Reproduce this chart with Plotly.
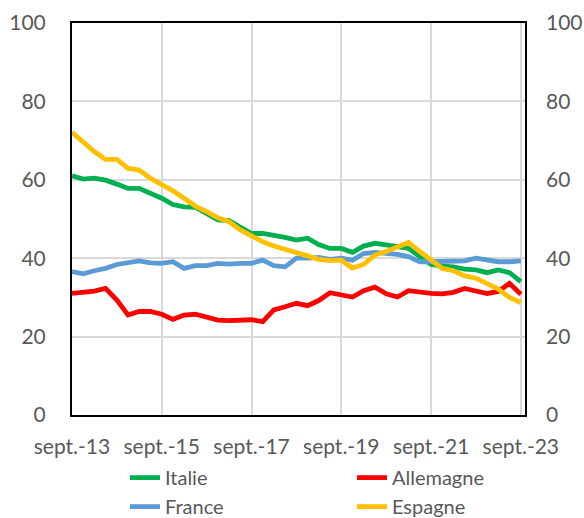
import pandas as pd
import plotly.graph_objects as go

dates = pd.date_range(start="2013-09-01", periods=41, freq="3MS")

italie = [61.0, 60.2, 60.4, 59.9, 58.9, 57.8, 57.8, 56.7, 55.3, 53.7, 53.1, 53.0, 51.5,
          49.8, 49.6, 47.9, 46.3, 46.3, 45.9, 45.3, 44.6, 45.1, 43.5, 42.5, 42.5, 41.5,
          43.1, 43.8, 43.4, 42.9, 42.5, 40.4, 38.4, 38.0, 37.8, 37.2, 37.0, 36.3, 37.0,
          36.3, 34.0]
allemagne = [31.0, 31.3, 31.6, 32.3, 29.3, 25.5, 26.4, 26.4, 25.7, 24.4, 25.5, 25.7, 25.0,
             24.2, 24.1, 24.1, 24.3, 23.8, 26.8, 27.6, 28.5, 27.9, 29.2, 31.2, 30.7, 30.1,
             31.7, 32.6, 30.9, 30.1, 31.7, 31.3, 31.0, 30.9, 31.3, 32.3, 31.5, 31.0, 31.5,
             33.6, 30.8]
france = [36.6, 36.0, 36.8, 37.4, 38.4, 38.8, 39.3, 38.8, 38.7, 39.1, 37.4, 38.1, 38.1,
          38.7, 38.5, 38.7, 38.7, 39.5, 38.1, 37.8, 40.0, 40.0, 40.2, 39.7, 40.0, 39.5,
          41.2, 41.5, 41.4, 41.0, 40.4, 39.1, 39.1, 39.1, 39.1, 39.3, 40.0, 39.5, 39.1,
          39.1, 39.3]
espagne = [72.1, 69.7, 67.2, 65.2, 65.2, 62.9, 62.5, 60.4, 58.9, 57.2, 55.3, 53.3, 51.9,
           50.3, 49.3, 47.2, 45.7, 44.2, 43.1, 42.3, 41.7, 40.6, 39.7, 39.4, 39.5, 37.5,
           38.4, 40.8, 41.7, 42.8, 44.0, 41.7, 39.5, 37.4, 36.8, 35.5, 34.9, 33.4, 32.1,
           30.0, 28.7]

tick_dates = ["2013-09-01", "2015-09-01", "2017-09-01", "2019-09-01", "2021-09-01", "2023-09-01"]
tick_labels = ["sept.-13", "sept.-15", "sept.-17", "sept.-19", "sept.-21", "sept.-23"]
y_ticks = [0, 20, 40, 60, 80, 100]

series = [
    ("Italie", italie, "#00B050"),
    ("Allemagne", allemagne, "#FF0000"),
    ("France", france, "#5B9BD5"),
    ("Espagne", espagne, "#FFC000"),
]

fig = go.Figure()
for name, vals, col in series:
    fig.add_trace(go.Scatter(x=dates, y=vals, name=name, mode="lines",
                             line=dict(color=col, width=4.8)))
# invisible trace for right axis
fig.add_trace(go.Scatter(x=[dates[0]], y=[0], yaxis="y2", mode="lines",
                         showlegend=False, hoverinfo="skip",
                         line=dict(color="rgba(0,0,0,0)")))

font = dict(family="Lato, Carlito, sans-serif", size=21, color="#595959")

fig.update_layout(
    width=584, height=518,
    margin=dict(l=72, r=59, t=23, b=103, autoexpand=False),
    paper_bgcolor="white", plot_bgcolor="white",
    font=font,
    showlegend=True,
    legend=dict(orientation="h", xref="container", yref="container",
                x=0.214, xanchor="left", y=0.05, yanchor="middle",
                entrywidth=182, entrywidthmode="pixels", traceorder="normal",
                font=dict(family="Lato, Carlito, sans-serif", size=20, color="#595959"),
                tracegroupgap=0, bgcolor="rgba(0,0,0,0)"),
    xaxis=dict(type="date", range=["2013-09-01", "2023-10-05"],
               tickvals=tick_dates, ticktext=tick_labels, automargin=False,
               showgrid=True, gridcolor="#D9D9D9", gridwidth=1.5,
               showline=True, linecolor="black", linewidth=2, mirror=True,
               ticks="", ticklabelstandoff=12, zeroline=False),
    yaxis=dict(range=[0, 100], tickvals=y_ticks, automargin=False,
               showgrid=True, gridcolor="#D9D9D9", gridwidth=1.5,
               showline=True, linecolor="black", linewidth=2, mirror=True,
               ticks="", ticklabelstandoff=20, zeroline=False),
    yaxis2=dict(range=[0, 100], tickvals=y_ticks, overlaying="y", side="right",
                automargin=False,
                showgrid=False, showline=False, ticks="", ticklabelstandoff=20,
                zeroline=False),
)

fig.write_html("out.html", config={"displayModeBar": False},
               post_script="document.body.style.margin='0';")
